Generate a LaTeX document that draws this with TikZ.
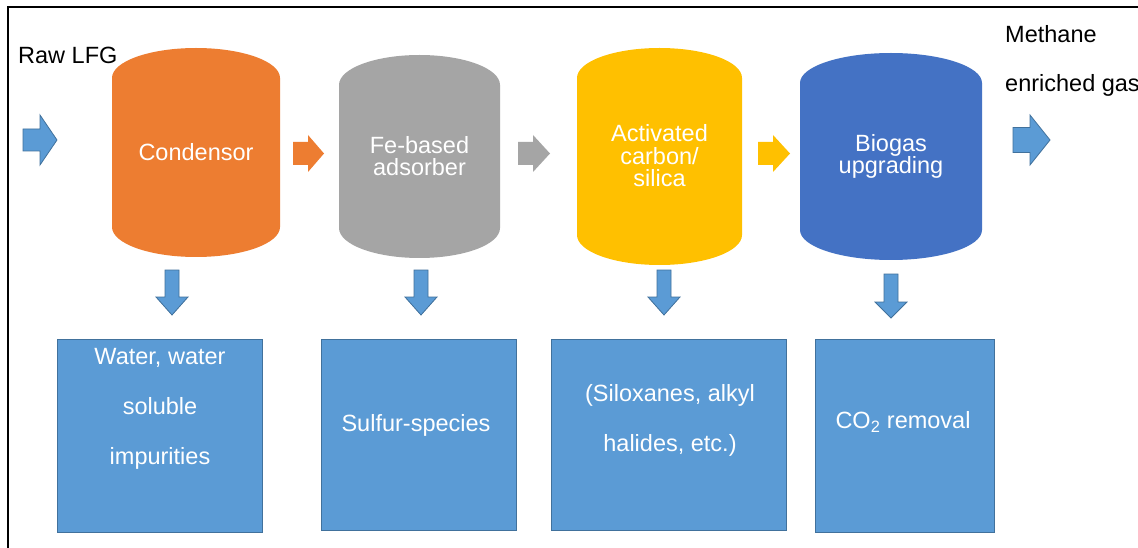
\documentclass[tikz,border=0pt]{standalone}
\usepackage{fontspec}
\setmainfont{Liberation Sans}
\definecolor{corange}{HTML}{ED7D31}
\definecolor{cgray}{HTML}{A5A5A5}
\definecolor{cyellow}{HTML}{FFC000}
\definecolor{cblue}{HTML}{4472C4}
\definecolor{lblue}{HTML}{5B9BD5}
\definecolor{lborder}{HTML}{41719C}
% cylinder silhouette: cx, top, bottom, halfwidth, colour
\newcommand{\cylshape}[5]{%
  \fill[#5] (#1-#4,-#2-30) arc[start angle=180,end angle=0,x radius=#4pt,y radius=30pt]
    -- (#1+#4,-#3+30) arc[start angle=0,end angle=-180,x radius=#4pt,y radius=30pt] -- cycle;}
% right block arrow: x1, head x, x2, yc, half shaft, half head, style
\newcommand{\rarr}[7]{%
  \filldraw[#7] (#1,-#4+#5) -- (#2,-#4+#5) -- (#2,-#4+#6) -- (#3,-#4)
    -- (#2,-#4-#6) -- (#2,-#4-#5) -- (#1,-#4-#5) -- cycle;}
% down block arrow: xc, y1, head y, y2, half shaft, half head
\newcommand{\darr}[6]{%
  \filldraw[blockarrow] (#1-#5,-#2) -- (#1+#5,-#2) -- (#1+#5,-#3) -- (#1+#6,-#3)
    -- (#1,-#4) -- (#1-#6,-#3) -- (#1-#5,-#3) -- cycle;}
\tikzset{
  blockarrow/.style={fill=lblue, draw=lborder, line width=0.8pt, line join=miter},
  flowarrow/.style={draw=none},
  cyltext/.style={text=white, align=center, inner sep=0pt,
    font=\fontsize{23.5}{22.5}\selectfont},
  outbox/.style={fill=lblue, draw=lborder, line width=1pt, inner sep=0pt},
  boxtext/.style={text=white, align=center, inner sep=0pt,
    font=\fontsize{23.5}{50}\selectfont},
  label/.style={text=black, inner sep=0pt, font=\fontsize{23.5}{25}\selectfont}
}
\begin{document}
\begin{tikzpicture}[x=1pt,y=1pt]
\useasboundingbox (0,0) rectangle (1138,-548);
\fill[white] (0,0) rectangle (1138,-548);
% frame
\draw[line width=2pt] (8,-560) -- (8,-7) -- (1150,-7);

% labels
\node[label, anchor=base west] (raw) at (18,-64) {Raw LFG};
\node[label, anchor=base west] (meth) at (1005,-43) {Methane};
\node[label, anchor=base west] (enr) at (1005,-92) {enriched gas};

% cylinders
\cylshape{196}{48}{257}{84}{corange}
\cylshape{419.5}{55}{258}{80.5}{cgray}
\cylshape{659.5}{48}{265}{82.5}{cyellow}
\cylshape{891}{53}{260}{91}{cblue}
\node[cyltext] (cond) at (196,-152) {Condensor};
\node[cyltext] (fe) at (419.5,-156) {Fe-based\\adsorber};
\node[cyltext] (act) at (659.5,-156) {Activated\\carbon/\\silica};
\node[cyltext] (bio) at (891,-156.5) {Biogas\\upgrading};

% horizontal flow arrows
\rarr{23}{40}{57}{140}{11}{25}{blockarrow}
\rarr{293}{308}{324}{153.5}{11.5}{18.5}{flowarrow, fill=corange}
\rarr{518}{533}{550}{153.5}{11.5}{18.5}{flowarrow, fill=cgray}
\rarr{758}{773}{790}{153.5}{11.5}{18.5}{flowarrow, fill=cyellow}
\rarr{1013}{1030}{1050}{140}{12.5}{25}{blockarrow}

% down arrows
\darr{172}{270}{297}{315}{7}{16}
\darr{421}{270}{297}{315}{7}{16}
\darr{664}{270}{297}{315}{7}{16}
\darr{891}{274}{302}{318}{7}{16}

% output boxes
\node[outbox, minimum width=205pt, minimum height=193pt] (b1) at (159.5,-435.5) {};
\node[outbox, minimum width=195pt, minimum height=191pt] (b2) at (418.5,-434.5) {};
\node[outbox, minimum width=235pt, minimum height=191pt] (b3) at (668.5,-434.5) {};
\node[outbox, minimum width=179pt, minimum height=193pt] (b4) at (904.5,-435.5) {};
\node[boxtext] (t1) at (160,-409) {Water, water\\soluble\\impurities};
\node[boxtext] (t2) at (416,-425) {Sulfur-species};
\node[boxtext] (t3) at (670,-420) {(Siloxanes, alkyl\\halides, etc.)};
\node[boxtext] (t4) at (903,-422) {CO\textsubscript{2} removal};
\end{tikzpicture}
\end{document}
